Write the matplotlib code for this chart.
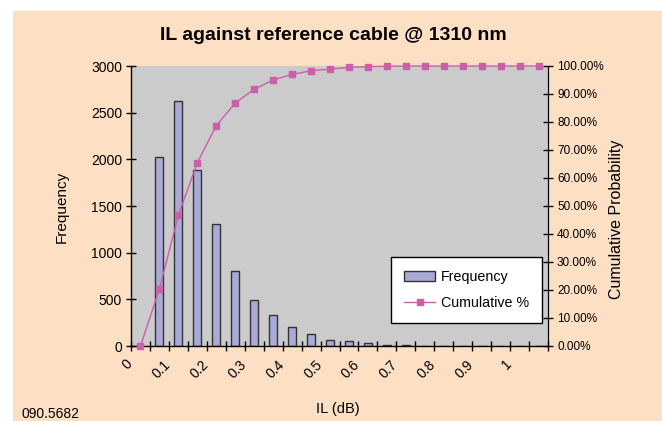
import matplotlib
matplotlib.use("Agg")
import matplotlib.pyplot as plt
from matplotlib.patches import Patch, Rectangle
from matplotlib.lines import Line2D

plt.rcParams['font.family'] = ['Liberation Sans', 'DejaVu Sans']

bins = ["0", "0.05", "0.1", "0.15", "0.2", "0.25", "0.3", "0.35", "0.4", "0.45", "0.5",
        "0.55", "0.6", "0.65", "0.7", "0.75", "0.8", "0.85", "0.9", "0.95", "1", "1.05"]
frequency = [0, 2030, 2625, 1882, 1310, 803, 496, 332, 200, 125, 64, 52, 27, 12, 10,
             0, 0, 0, 0, 0, 0, 0]
cumulative = [0.0, 20.4, 46.7, 65.5, 78.7, 86.8, 91.7, 95.0, 97.0, 98.3, 98.9, 99.5,
              99.8, 99.9, 100.0, 100.0, 100.0, 100.0, 100.0, 100.0, 100.0, 100.0]
xtick_labels = ["0", "0.1", "0.2", "0.3", "0.4", "0.5", "0.6", "0.7", "0.8", "0.9", "1"]

W, H = 662, 421
bg = '#FDE0C4'
plotbg = '#CBCBCB'
barc = '#AAAAD6'
linec = '#CC5FAA'

fig = plt.figure(figsize=(W/100, H/100), dpi=100, facecolor='white')
fig.patches.append(Rectangle((13/W, 0), 1, 1 - 11/H, transform=fig.transFigure,
                             facecolor=bg, edgecolor='none', zorder=-10))

ax = fig.add_axes([131/W, 1-346/H, (548-131)/W, (346-66)/H])
ax.set_facecolor(plotbg)
x = list(range(len(bins)))
ax.bar(x, frequency, width=0.42, color=barc, edgecolor='#333333', linewidth=1.0, zorder=2)
ax.set_xlim(-0.5, len(bins)-0.5)
ax.set_ylim(0, 3000)
ax.set_yticks(range(0, 3001, 500))
ax.tick_params(axis='y', direction='inout', length=7, width=1, labelsize=10, pad=3)
ax.set_xticks([i - 0.5 for i in range(len(bins)+1)])
ax.set_xticklabels([])
ax.tick_params(axis='x', direction='inout', length=7, width=1)
for i, lab in enumerate(xtick_labels):
    ax.text(2*i - 0.8, -120, lab, rotation=45, ha='right', va='top',
            rotation_mode='anchor', fontsize=10, transform=ax.transData)
ax.spines['top'].set_visible(False)
ax.spines['left'].set_linewidth(1)
ax.spines['bottom'].set_linewidth(1)

ax2 = ax.twinx()
ax2.plot(x, cumulative, color=linec, marker='s', markersize=5, linewidth=1.0, zorder=3,
         clip_on=False)
ax2.set_ylim(0, 100)
ax2.set_yticks(range(0, 101, 10))
ax2.set_yticklabels([f"{v:.2f}%" for v in range(0, 101, 10)])
ax2.tick_params(axis='y', direction='inout', length=7, width=1, labelsize=8.5, pad=3)
ax2.spines['top'].set_visible(False)
ax2.spines['left'].set_visible(False)
ax2.spines['bottom'].set_visible(False)

handles = [Patch(facecolor=barc, edgecolor='#333333', linewidth=1.0),
           Line2D([0], [0], color=linec, marker='s', markersize=5, linewidth=1.0)]
leg = ax2.legend(handles, ['Frequency', 'Cumulative %'], loc='upper left',
                 bbox_to_anchor=((391-131)/417, (346-257)/280), fontsize=10.3,
                 frameon=True, fancybox=False, edgecolor='black', framealpha=1,
                 borderpad=0.9, labelspacing=0.85, handlelength=2.2, handletextpad=0.4,
                 borderaxespad=0)
leg.get_frame().set_linewidth(1.0)

fig.text(62/W, 1-207/H, 'Frequency', rotation=90, ha='center', va='center', fontsize=11)
fig.text(617/W, 1-219/H, 'Cumulative Probability', rotation=90, ha='center', va='center',
         fontsize=11.5)
fig.text(338/W, 1-409/H, 'IL (dB)', ha='center', va='center', fontsize=10.5)
fig.text(333/W, 1-35/H, 'IL against reference cable @ 1310 nm', ha='center', va='center',
         fontsize=14, fontweight='bold')
fig.text(21/W, 1-414/H, '090.5682', ha='left', va='center', fontsize=10)

fig.savefig('out.png', dpi=100, facecolor='white')
